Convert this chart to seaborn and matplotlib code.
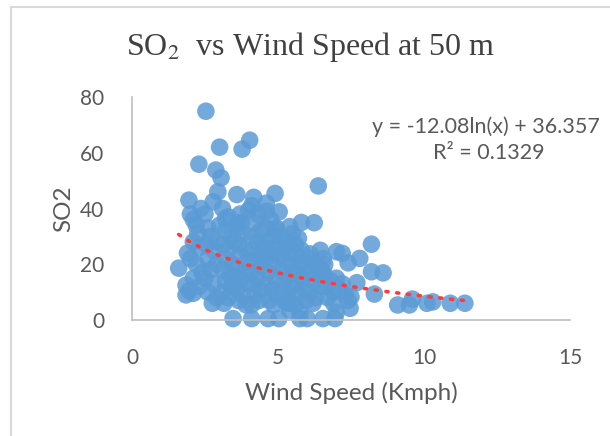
import numpy as np
import pandas as pd
import seaborn as sns
import matplotlib.pyplot as plt
from matplotlib.patches import Rectangle

# dados (velocidade do vento x SO2)
wind = [
    # pontos isolados
    2.53, 3.0, 3.77, 4.03, 2.29, 2.87, 3.05, 6.38, 1.95, 2.94, 2.78, 3.59, 4.17, 4.9,
    2.36, 4.6, 4.0, 5.04, 3.2, 3.64, 5.4, 5.8, 6.24, 4.93, 5.7, 8.2, 7.0, 7.2, 6.1,
    7.8, 7.4, 6.6, 8.2, 8.6, 1.6, 1.9, 1.85, 1.85, 2.1, 8.3, 7.7, 7.5, 7.47, 7.0,
    9.1, 9.5, 9.6, 10.1, 10.3, 10.9, 11.4,
    3.46, 4.1, 4.66, 5.03, 5.75, 6.0, 6.54, 6.95, 5.34, 5.4, 5.75,
    # nuvem principal
    2.0, 2.1, 2.2, 2.25, 2.1, 2.3, 2.0, 2.2, 2.4, 2.1, 2.3, 1.95,
    2.5, 2.6, 2.7, 2.55, 2.8, 2.6, 2.9, 2.7, 2.5, 2.8, 2.6, 2.9, 2.75, 3.0, 2.9,
    3.1, 3.3, 3.2, 3.4, 3.1, 3.3, 3.2, 3.45, 3.1, 3.35, 3.2, 3.4, 3.1, 3.3, 3.15, 3.5, 3.5,
    3.7, 3.6, 3.8, 3.65, 3.9, 3.7, 3.6, 3.85, 3.7, 3.95, 3.6, 3.8, 3.65, 3.9, 3.95, 3.75,
    4.1, 4.3, 4.2, 4.4, 4.1, 4.3, 4.15, 4.4, 4.2, 4.45, 4.1, 4.3, 4.15, 4.4, 4.2, 4.35, 4.1, 4.5,
    4.6, 4.75, 4.6, 4.85, 4.65, 4.9, 4.7, 4.55, 4.85, 4.65, 4.9, 4.6, 4.8, 4.95, 4.7, 4.85, 5.0, 4.95,
    5.1, 5.3, 5.15, 5.4, 5.2, 5.45, 5.1, 5.3, 5.2, 5.45, 5.15, 5.35, 5.25, 5.5,
    5.6, 5.8, 5.65, 5.9, 5.7, 5.55, 5.85, 5.6, 5.9, 5.7, 5.95, 5.6, 6.0,
    6.1, 6.3, 6.15, 6.4, 6.2, 6.45, 6.1, 6.3, 6.2, 6.45, 6.5,
    6.6, 6.8, 6.65, 6.9, 6.7, 6.9, 6.55, 7.0,
    7.1, 7.3, 7.2, 7.4,
]
so2 = [
    74.9, 62.0, 61.3, 64.5, 55.9, 53.8, 51.0, 48.1, 43.0, 46.0, 42.4, 45.0, 44.0, 45.4,
    40.0, 41.9, 39.4, 38.8, 36.4, 34.7, 33.5, 35.0, 34.9, 32.5, 29.3, 27.2, 24.5, 23.9, 23.7,
    22.1, 20.5, 19.9, 17.3, 16.9, 18.6, 24.0, 12.5, 9.0, 9.6, 9.3, 13.4, 8.3, 4.2, 2.8,
    5.4, 5.4, 7.5, 6.0, 6.5, 6.0, 6.0,
    0.5, 0.5, 0.5, 0.5, 0.5, 0.5, 0.5, 0.5, 6.0, 3.5, 2.9,
    38, 36, 34, 31, 28, 26, 22, 20, 17, 15, 12, 10.5,
    38, 33, 30, 27, 25, 22, 20, 18, 15, 13, 10, 8, 6, 34, 28,
    40, 37, 32, 30, 27, 25, 22, 20, 18, 16, 14, 12, 10, 8, 6, 28, 14,
    38, 33, 31, 27, 25, 23, 19, 17, 15, 13, 11, 9, 7, 5.5, 21, 35,
    41, 38, 35, 32, 30, 28, 25, 23, 21, 19, 17, 15, 13, 11, 9, 7, 5.5, 26,
    39, 36, 33, 30, 28, 26, 24, 21, 20, 17, 15, 13, 11, 9, 7, 5.5, 23, 33,
    30, 28, 26, 24, 22, 20, 18, 16, 14, 12, 10, 8, 6.5, 31,
    27, 25, 23, 21, 19, 17, 15, 13, 11, 9, 7, 5.5, 17,
    22, 20, 18, 16, 14, 12, 10, 8, 6, 25, 18,
    16, 14, 12, 10, 8, 6, 22, 15,
    11, 9, 13, 7,
]

# linha de tendência logarítmica (Excel)
coef_a = -12.08
coef_b = 36.357
trend_x = [1.6, 11.4]

df = pd.DataFrame({"Wind": wind, "SO2": so2})

sns.set_style("white")
plt.rcParams['font.family'] = ['Lato', 'DejaVu Sans']
plt.rcParams['mathtext.fontset'] = 'stix'

fig = plt.figure(figsize=(6.1, 4.36), dpi=100)
ax = fig.add_axes([132 / 610, 1 - 320 / 436, 438 / 610, 223 / 436])

sns.scatterplot(data=df, x="Wind", y="SO2", ax=ax, s=160, color="#5B9BD5",
                alpha=0.85, edgecolor="none", zorder=2, clip_on=False)

xx = np.linspace(trend_x[0], trend_x[1], 200)
ax.plot(xx, coef_a * np.log(xx) + coef_b, color="#FF3B3B", linestyle=(0, (0.6, 2.4)),
        linewidth=2.6, dash_capstyle="round", zorder=3)

ax.set_xlim(0, 15)
ax.set_ylim(0, 80)
ax.set_xticks([0, 5, 10, 15])
ax.set_yticks([0, 20, 40, 60, 80])
ax.tick_params(axis="both", length=0, labelsize=15, labelcolor="#595959")
ax.tick_params(axis="x", pad=20)
ax.tick_params(axis="y", pad=20)
for side in ["top", "right"]:
    ax.spines[side].set_visible(False)
for side in ["left", "bottom"]:
    ax.spines[side].set_color("#BFBFBF")
    ax.spines[side].set_linewidth(1.2)
ax.set_xlabel("Wind Speed (Kmph)", fontsize=17.5, color="#595959", labelpad=10)
ax.set_ylabel("SO2", fontsize=17.5, color="#595959", labelpad=4)

fig.text(311 / 610, 1 - 47 / 436, r"SO$_2$  vs Wind Speed at 50 m", ha="center", va="center",
         fontsize=23, color="#404040", family="Liberation Serif")

fig.text(486 / 610, 1 - 127 / 436, "y = -12.08ln(x) + 36.357", ha="center", va="center",
         fontsize=15.5, color="#595959")
fig.text(489 / 610, 1 - 153 / 436, "R² = 0.1329", ha="center", va="center",
         fontsize=15.5, color="#595959")

fig.patches.append(Rectangle((11 / 610, -0.1), 1.2, 1 - 7 / 436 + 0.1,
                             transform=fig.transFigure, fill=False,
                             edgecolor="#D9D9D9", linewidth=1.5))

fig.savefig("out.png", dpi=100)
